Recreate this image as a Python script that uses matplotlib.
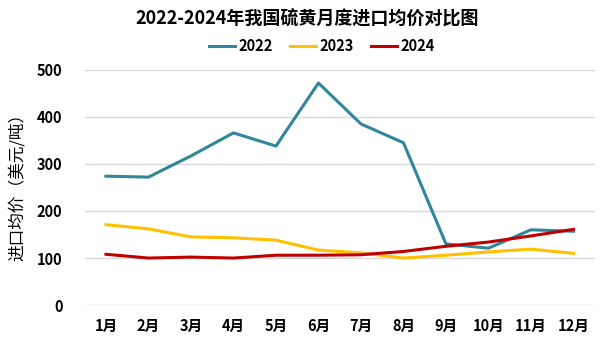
import matplotlib
matplotlib.use('Agg')
import matplotlib.pyplot as plt

plt.rcParams['font.family'] = ['Noto Sans CJK SC', 'DejaVu Sans']

months = ['1月', '2月', '3月', '4月', '5月', '6月', '7月', '8月', '9月', '10月', '11月', '12月']
price_2022 = [274, 272, 317, 366, 338, 472, 385, 345, 130, 121, 160, 157]
price_2023 = [171, 162, 145, 143, 138, 117, 111, 100, 106, 113, 119, 110]
price_2024 = [108, 100, 102, 100, 106, 106, 107, 114, 125, 134, 147, 161]

fig = plt.figure(figsize=(6.05, 3.39), dpi=100)
ax = fig.add_axes([0.140, 0.100, 0.843, 0.694])

x = range(len(months))
ax.plot(x, price_2022, color='#31859C', lw=2.2, label='2022')
ax.plot(x, price_2023, color='#FFC000', lw=2.2, label='2023')
ax.plot(x, price_2024, color='#C00000', lw=2.2, label='2024')

ax.set_xlim(-0.5, len(months) - 0.5)
ax.set_ylim(0, 500)
ax.set_yticks([0, 100, 200, 300, 400, 500])
ax.set_xticks(list(x))
ax.set_xticklabels(months)
for lbl in ax.get_xticklabels() + ax.get_yticklabels():
    lbl.set_fontweight('bold')
    lbl.set_fontsize(10.5)
ax.tick_params(length=0)
ax.tick_params(axis='y', pad=16)
ax.tick_params(axis='x', pad=9)
ax.grid(axis='y', color='#D9D9D9', lw=1)
ax.set_axisbelow(True)
for s in ax.spines.values():
    s.set_visible(False)

ax.set_ylabel('进口均价（美元/吨）', fontsize=12, labelpad=6, fontweight='medium')
ax.yaxis.set_label_coords(-0.115, 0.52)

fig.text(0.507, 0.945, '2022-2024年我国硫黄月度进口均价对比图', ha='center', va='center',
         fontsize=13, fontweight='bold')
fig.legend(loc='center', bbox_to_anchor=(0.532, 0.865), ncol=3, frameon=False,
           prop={'weight': 'bold', 'size': 10.5}, handlelength=1.8, columnspacing=1.2,
           handletextpad=0.2)

fig.savefig('out.png', dpi=100)
